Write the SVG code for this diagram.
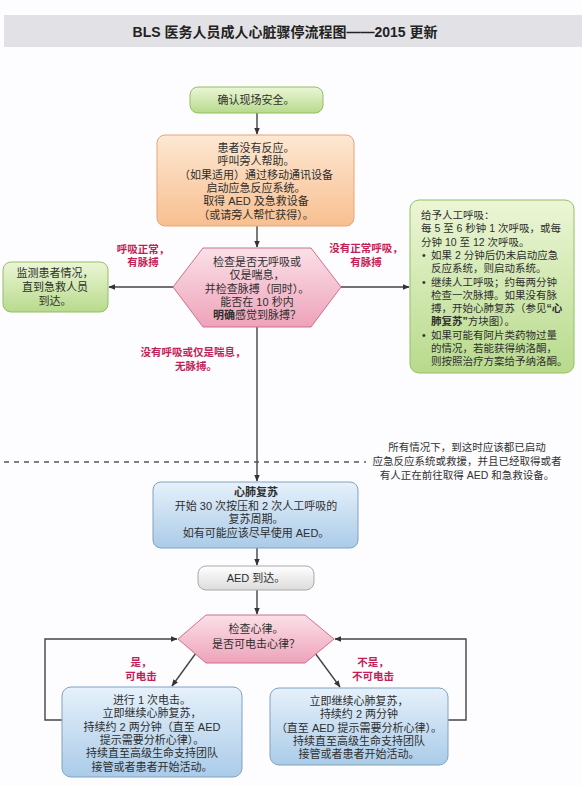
<svg xmlns="http://www.w3.org/2000/svg" width="582" height="786" viewBox="0 0 582 786">
<style>
text{font-family:"Liberation Sans","Noto Sans CJK SC",sans-serif;fill:#2e2e2e;font-size:11px}
.c{text-anchor:middle}
.b{font-weight:bold}
.lbl{fill:#c41e56;font-weight:bold;text-anchor:middle;font-size:10.5px}
.ln{stroke:#444;stroke-width:1.4;fill:none}
.g{fill:url(#gG);stroke:#93c064;stroke-width:1}
.o{fill:url(#gO);stroke:#e6a47a;stroke-width:1}
.p{fill:url(#gP);stroke:#cf6f8e;stroke-width:1}
.bl{fill:url(#gB);stroke:#7fa2c2;stroke-width:1}
.gr{fill:url(#gW);stroke:#a9a9a9;stroke-width:1}
</style>
<defs>
<linearGradient id="gG" x1="0" y1="0" x2="0" y2="1"><stop offset="0" stop-color="#ecf6d6"/><stop offset="1" stop-color="#b7da8c"/></linearGradient>
<linearGradient id="gO" x1="0" y1="0" x2="0" y2="1"><stop offset="0" stop-color="#fde8d2"/><stop offset="1" stop-color="#f8bf90"/></linearGradient>
<linearGradient id="gP" x1="0" y1="0" x2="0" y2="1"><stop offset="0" stop-color="#fbe0e8"/><stop offset="1" stop-color="#eda3b9"/></linearGradient>
<linearGradient id="gB" x1="0" y1="0" x2="0" y2="1"><stop offset="0" stop-color="#e6f1fb"/><stop offset="1" stop-color="#aacbe8"/></linearGradient>
<linearGradient id="gW" x1="0" y1="0" x2="0" y2="1"><stop offset="0" stop-color="#ffffff"/><stop offset="1" stop-color="#dcdcdc"/></linearGradient>
<marker id="ah" viewBox="0 0 10 10" refX="9" refY="5" markerWidth="7" markerHeight="7" orient="auto" markerUnits="userSpaceOnUse"><path d="M0,1 L10,5 L0,9 z" fill="#333"/></marker>
</defs>
<rect x="0" y="0" width="582" height="786" fill="#fdfcfe"/>
<g id="title">
<rect x="4" y="15" width="578" height="32" fill="#e2e1e5"/>
<text x="285" y="37" class="c b" style="font-size:14px;fill:#222">BLS 医务人员成人心脏骤停流程图——2015 更新</text>
</g>
<g id="connectors">
<line class="ln" x1="257" y1="113" x2="257" y2="134" marker-end="url(#ah)"/>
<line class="ln" x1="257" y1="226" x2="257" y2="247" marker-end="url(#ah)"/>
<line class="ln" x1="173" y1="287" x2="109" y2="287" marker-end="url(#ah)"/>
<line class="ln" x1="341" y1="287" x2="409" y2="287" marker-end="url(#ah)"/>
<line class="ln" x1="257" y1="327" x2="257" y2="481" marker-end="url(#ah)"/>
<line x1="4" y1="462" x2="366" y2="462" stroke="#555" stroke-width="1.3" stroke-dasharray="5,5"/>
<line class="ln" x1="257" y1="548" x2="257" y2="565" marker-end="url(#ah)"/>
<line class="ln" x1="257" y1="590" x2="257" y2="614" marker-end="url(#ah)"/>
<line class="ln" x1="196" y1="653" x2="172" y2="686" marker-end="url(#ah)"/>
<line class="ln" x1="315" y1="653" x2="340" y2="687" marker-end="url(#ah)"/>
<polyline class="ln" points="62,720 45,720 45,639 177,639" marker-end="url(#ah)"/>
<polyline class="ln" points="448,720 466,720 466,639 335,639" marker-end="url(#ah)"/>
</g>
<g id="n-safe">
<rect class="g" x="190" y="87" width="133" height="26" rx="8"/>
<text x="256" y="104" class="c">确认现场安全。</text>
</g>
<g id="n-unresponsive">
<rect class="o" x="157" y="135" width="197" height="91" rx="8"/>
<text class="c" x="256"><tspan x="256" y="152">患者没有反应。</tspan><tspan x="256" y="165.3">呼叫旁人帮助。</tspan><tspan x="256" y="178.6">（如果适用）通过移动通讯设备</tspan><tspan x="256" y="191.9">启动应急反应系统。</tspan><tspan x="256" y="205.2">取得 AED 及急救设备</tspan><tspan x="256" y="218.5">（或请旁人帮忙获得）。</tspan></text>
</g>
<g id="n-check">
<polygon class="p" points="203,248 311,248 341,287 311,327 203,327 173,287"/>
<text class="c" x="257"><tspan x="257" y="266">检查是否无呼吸或</tspan><tspan x="257" y="279.3">仅是喘息，</tspan><tspan x="257" y="292.6">并检查脉搏（同时）。</tspan><tspan x="257" y="305.9">能否在 10 秒内</tspan><tspan x="257" y="319.2"><tspan class="b">明确</tspan>感觉到脉搏？</tspan></text>
</g>
<g id="n-monitor">
<rect class="g" x="3" y="262" width="105" height="50" rx="8"/>
<text class="c" x="55"><tspan x="55" y="277">监测患者情况，</tspan><tspan x="55" y="291">直到急救人员</tspan><tspan x="55" y="305">到达。</tspan></text>
</g>
<g id="n-breaths">
<rect class="g" x="410" y="200" width="164" height="173" rx="9"/>
<text style="font-size:10.5px"><tspan x="421" y="219">给予人工呼吸：</tspan><tspan x="421" y="232.3">每 5 至 6 秒钟 1 次呼吸，或每</tspan><tspan x="421" y="245.6">分钟 10 至 12 次呼吸。</tspan><tspan x="422" y="258.9">•</tspan><tspan x="431" y="258.9">如果 2 分钟后仍未启动应急</tspan><tspan x="431" y="272.2">反应系统，则启动系统。</tspan><tspan x="422" y="285.5">•</tspan><tspan x="431" y="285.5">继续人工呼吸；约每两分钟</tspan><tspan x="431" y="298.8">检查一次脉搏。如果没有脉</tspan><tspan x="431" y="312.1">搏，开始心肺复苏（参见<tspan class="b">“心</tspan></tspan><tspan x="431" y="325.4"><tspan class="b">肺复苏”</tspan>方块图）。</tspan><tspan x="422" y="338.7">•</tspan><tspan x="431" y="338.7">如果可能有阿片类药物过量</tspan><tspan x="431" y="352">的情况，若能获得纳洛酮，</tspan><tspan x="431" y="365.3">则按照治疗方案给予纳洛酮。</tspan></text>
</g>
<g id="labels-top">
<text class="lbl"><tspan x="143" y="253">呼吸正常，</tspan><tspan x="143" y="266">有脉搏</tspan></text>
<text class="lbl"><tspan x="366" y="252">没有正常呼吸，</tspan><tspan x="366" y="266">有脉搏</tspan></text>
<text class="lbl"><tspan x="193" y="356">没有呼吸或仅是喘息，</tspan><tspan x="196" y="370">无脉搏。</tspan></text>
</g>
<g id="note">
<text class="c" style="font-size:10.5px;fill:#333"><tspan x="467" y="451">所有情况下，到这时应该都已启动</tspan><tspan x="467" y="465">应急反应系统或救援，并且已经取得或者</tspan><tspan x="467" y="479">有人正在前往取得 AED 和急救设备。</tspan></text>
</g>
<g id="n-cpr">
<rect class="bl" x="153" y="482" width="205" height="66" rx="8"/>
<text class="c" x="256"><tspan x="256" y="496" class="b">心肺复苏</tspan><tspan x="256" y="510">开始 30 次按压和 2 次人工呼吸的</tspan><tspan x="256" y="523.3">复苏周期。</tspan><tspan x="256" y="536.6">如有可能应该尽早使用 AED。</tspan></text>
</g>
<g id="n-aed">
<rect class="gr" x="198" y="566" width="116" height="24" rx="8"/>
<text x="256" y="582" class="c">AED 到达。</text>
</g>
<g id="n-rhythm">
<polygon class="p" points="206,615 305,615 334,639 305,663 206,663 178,639"/>
<text class="c" x="256"><tspan x="256" y="633">检查心律。</tspan><tspan x="256" y="648">是否可电击心律？</tspan></text>
</g>
<g id="labels-bottom">
<text class="lbl"><tspan x="141" y="666">是，</tspan><tspan x="141" y="680">可电击</tspan></text>
<text class="lbl"><tspan x="373" y="666">不是，</tspan><tspan x="373" y="680">不可电击</tspan></text>
</g>
<g id="n-shock">
<rect class="bl" x="62" y="687" width="180" height="90" rx="9"/>
<text class="c" x="152"><tspan x="152" y="704">进行 1 次电击。</tspan><tspan x="152" y="717.3">立即继续心肺复苏，</tspan><tspan x="152" y="730.6">持续约 2 两分钟（直至 AED</tspan><tspan x="152" y="743.9">提示需要分析心律）。</tspan><tspan x="152" y="757.2">持续直至高级生命支持团队</tspan><tspan x="152" y="770.5">接管或者患者开始活动。</tspan></text>
</g>
<g id="n-noshock">
<rect class="bl" x="270" y="688" width="178" height="77" rx="9"/>
<text class="c" x="359"><tspan x="359" y="705">立即继续心肺复苏，</tspan><tspan x="359" y="718.3">持续约 2 两分钟</tspan><tspan x="359" y="731.6">（直至 AED 提示需要分析心律）。</tspan><tspan x="359" y="744.9">持续直至高级生命支持团队</tspan><tspan x="359" y="758.2">接管或者患者开始活动。</tspan></text>
</g>
</svg>
